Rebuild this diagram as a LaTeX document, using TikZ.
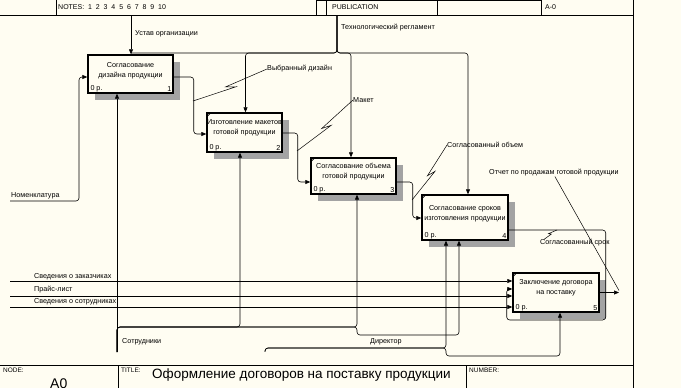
\documentclass[tikz,border=0pt]{standalone}
\usepackage{fontspec}
\setmainfont{Liberation Sans}
\usepackage{tikz}
\usetikzlibrary{arrows.meta, calc, shadows}

\definecolor{paper}{RGB}{255,253,242}

\begin{document}
\begin{tikzpicture}[
  x=1pt, y=-1pt,
  box/.style={draw, line width=1.4pt, fill=paper, inner sep=0pt,
              drop shadow={shadow xshift=6.5pt, shadow yshift=-6.5pt, fill=black!36, opacity=1}},
  btxt/.style={align=center, font=\fontsize{7.2}{10}\selectfont, inner sep=0pt},
  lbl/.style={anchor=west, font=\fontsize{7.2}{9}\selectfont, inner sep=0pt},
  small/.style={font=\fontsize{7.2}{9}\selectfont, inner sep=0pt},
  frm/.style={anchor=west, font=\fontsize{6.5}{8}\selectfont, inner sep=0pt},
  ln/.style={line width=0.6pt, rounded corners=3pt},
  arr/.style={ln, -{Triangle[length=5pt, width=4pt]}},
  squiggle/.style={line width=0.5pt, to path={-- ($(\tikztostart)!0.56!(\tikztotarget)$)
      -- ($(\tikztostart)!0.44!(\tikztotarget)!#1!90:(\tikztotarget)$) -- (\tikztotarget)}},
  squiggle/.default=4pt]
\fill[paper] (0,0) rectangle (681,388);
\useasboundingbox (0,0) rectangle (681,388);

% frame
\draw[line width=0.6pt] (0,15) -- (633,15);
\foreach \x in {56,316,326,437,541} \draw[line width=0.6pt] (\x,0) -- (\x,15);
\draw[line width=1.5pt] (316,0.7) -- (541,0.7);
\draw[line width=0.8pt] (633,0) -- (633,388);
\draw[line width=0.6pt] (0,365) -- (633,365);
\foreach \x in {118,466} \draw[line width=0.6pt] (\x,365) -- (\x,388);
\node[frm, font=\fontsize{7}{8}\selectfont] (notes) at (58,7.5) {NOTES:\ \ 1\ \ 2\ \ 3\ \ 4\ \ 5\ \ 6\ \ 7\ \ 8\ \ 9\ \ 10};
\node[frm, font=\fontsize{7}{8}\selectfont] (publ) at (332,7.5) {PUBLICATION};
\node[frm, font=\fontsize{7}{8}\selectfont] (ctx) at (545,7.5) {A-0};
\node[frm] (nodel) at (3,370) {NODE:};
\node[frm] (titlel) at (121,370) {TITLE:};
\node[frm] (numl) at (469,370) {NUMBER:};
\node[frm, font=\fontsize{13.5}{15}\selectfont] (title) at (152,375) {Оформление договоров на поставку продукции};
\node[anchor=north west, font=\fontsize{14}{15}\selectfont, inner sep=0pt] (nodeno) at (50,379) {A0};

% activities
\node[box, minimum width=85pt, minimum height=38pt] (b1) at (130.5,74) {};
\node[box, minimum width=75pt, minimum height=39pt] (b2) at (244.5,132.5) {};
\node[box, minimum width=85pt, minimum height=36pt] (b3) at (353.5,176) {};
\node[box, minimum width=86pt, minimum height=45pt] (b4) at (465,217.5) {};
\node[box, minimum width=86pt, minimum height=39pt] (b5) at (556,292.5) {};
\foreach \b in {b2,b3,b4,b5} \draw[line width=0.6pt] (\b.north west) ++(0,5) -- ++(5,-5);
\node[btxt] (t1) at ([yshift=3.5pt]b1.center) {Согласование\\дизайна продукции};
\node[btxt] (t2) at ([yshift=4.5pt]b2.center) {Изготовление макетов\\готовой продукции};
\node[btxt] (t3) at ([yshift=4.5pt]b3.center) {Согласование объема\\готовой продукции};
\node[btxt] (t4) at ([yshift=4pt]b4.center) {Согласование сроков\\изготовления продукции};
\node[btxt] (t5) at ([yshift=5pt]b5.center) {Заключение договора\\на поставку};
\foreach \b/\n in {b1/1,b2/2,b3/3,b4/4,b5/5} {
  \node[small, anchor=south west] (p\n) at ([shift={(3pt,2pt)}]\b.south west) {0 р.};
  \node[small, anchor=south east] (n\n) at ([shift={(-2pt,2pt)}]\b.south east) {\n};
}

% labels
\node[lbl] (lustav) at (135,34) {Устав организации};
\node[lbl] (ltech) at (341,28) {Технологический регламент};
\node[lbl] (lvyb) at (267,69) {Выбранный дизайн};
\node[lbl] (lmak) at (353,100) {Макет};
\node[lbl] (lobj) at (447,145) {Согласованный объем};
\node[lbl] (lotch) at (489,173) {Отчет по продажам готовой продукции};
\node[lbl] (lsrok) at (540,243) {Согласованный срок};
\node[lbl] (lnom) at (11,196) {Номенклатура};
\node[lbl] (lzak) at (34,277) {Сведения о заказчиках};
\node[lbl] (lprice) at (34,290) {Прайс-лист};
\node[lbl] (lsved) at (34,302) {Сведения о сотрудниках};
\node[lbl] (lstaff) at (122,342) {Сотрудники};
\node[lbl] (ldir) at (370,342) {Директор};

% ends and attach points
\coordinate (ustav) at (131,15);
\coordinate (tech) at (337,15);
\coordinate (tj) at (337,53);
\coordinate (nom) at (10,201);
\coordinate (zak) at (10,281);
\coordinate (price) at (10,296);
\coordinate (sved) at (10,307);
\coordinate (staff) at (117,352);
\coordinate (dir) at (265,351.5);
\coordinate (otch) at (619,292.5);
\coordinate (sy) at (0,327);
\coordinate (dy) at (0,348);
\coordinate (b2t) at ([xshift=1pt]b2.north);
\coordinate (b3t) at ([xshift=-2.5pt]b3.north);
\coordinate (b4t) at ([xshift=3pt]b4.north);
\coordinate (b1l) at ([yshift=-3pt]b1.west);
\coordinate (b1r) at ([yshift=-3pt]b1.east);
\coordinate (b2l) at ([yshift=-1.5pt]b2.west);
\coordinate (b2r) at ([yshift=-0.5pt]b2.east);
\coordinate (b3l) at ([yshift=-6pt]b3.west);
\coordinate (b3r) at ([yshift=-6pt]b3.east);
\coordinate (b4l) at ([yshift=-0.5pt]b4.west);
\coordinate (b4r) at ([yshift=-12.5pt]b4.east);
\coordinate (b5l) at ([yshift=3.5pt]b5.west);
\coordinate (b1b) at ([xshift=-13.5pt]b1.south);
\coordinate (b2b) at ([xshift=-4.5pt]b2.south);
\coordinate (b3b) at ([xshift=3.5pt]b3.south);
\coordinate (b4d) at ([xshift=-19pt]b4.south);
\coordinate (b4s) at ([xshift=-6pt]b4.south);
\coordinate (b5b) at ([xshift=4pt]b5.south);

% controls
\draw[arr] (ustav) -- (ustav |- b1.north);
\draw[ln] (tech) |- (ustav |- tj);
\draw[arr] (tech) |- (b2t |- tj) -- (b2t);
\draw[arr] (tech) |- (b3t |- tj) -- (b3t);
\draw[arr] (tech) |- (b4t |- tj) -- (b4t);

% inputs and outputs
\draw[arr] (nom) -- ++(69,0) |- (b1l);
\draw[arr] (b1r) -- ++(20,0) |- (b2l);
\draw[arr] (b2r) -- ++(15,0) |- (b3l);
\draw[arr] (b3r) -- ++(16,0) |- (b4l);
\draw[arr] (b4r) -- ++(97,0) -- ++(0,90) -- ++(-99,0) |- (b5l);
\draw[arr] (zak) -- (zak -| b5.west);
\draw[arr] (price) -- (price -| b5.west);
\draw[arr] (sved) -- (sved -| b5.west);
\draw[arr] (b5.east) -- (otch);

% mechanisms
\draw[arr] (staff) -- (b1b);
\draw[arr] (staff) |- (b2b |- sy) -- (b2b);
\draw[arr] (staff) |- (b3b |- sy) -- (b3b);
\draw[arr] (staff) |- (b3b |- sy) -- ++(0,8) -| (b4s);
\draw[arr] (dir) |- (b4d |- dy) -- (b4d);
\draw[arr] (dir) |- (b4d |- dy) -- ++(0,8) -| (b5b);

% label leaders
\draw[squiggle] (lvyb.west) to (193,101);
\draw[squiggle] (lmak.west) to (297,151);
\draw[squiggle] (lobj.west) to (412,200);
\draw[squiggle=2pt] ([xshift=4pt]lsrok.north west) to (557,230);
\draw[line width=0.5pt] ([xshift=1pt]lotch.south) -- ([yshift=2pt]otch);
\end{tikzpicture}
\end{document}
